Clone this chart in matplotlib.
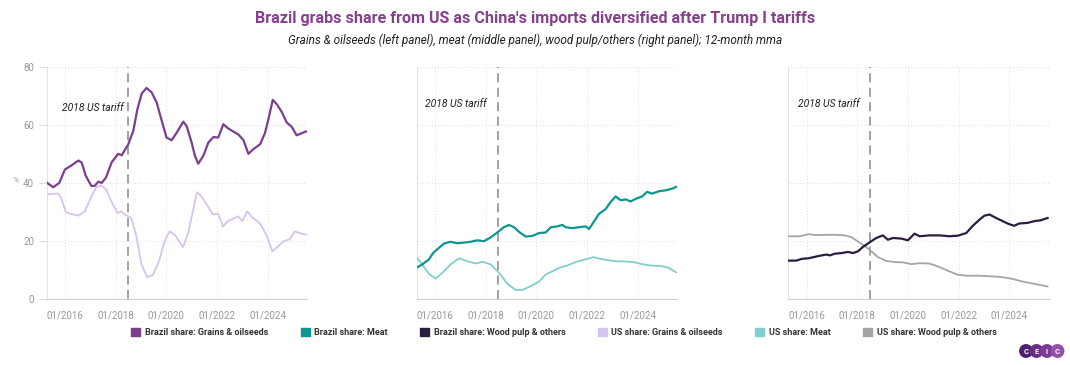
import matplotlib
matplotlib.use("Agg")
from matplotlib import pyplot as plt
import matplotlib.patches as mpatches
from matplotlib.patches import Ellipse

plt.rcParams['font.family'] = ['Roboto', 'DejaVu Sans']

# DATA (decimal years, % share of China's imports)
t_br_grains = [2015.30, 2015.54, 2015.78, 2016.00, 2016.26, 2016.53, 2016.66, 2016.83, 2017.05, 2017.18,
               2017.32, 2017.45, 2017.62, 2017.84, 2018.10, 2018.24, 2018.50, 2018.70, 2018.86, 2019.03,
               2019.22, 2019.42, 2019.62, 2019.82, 2020.01, 2020.21, 2020.41, 2020.67, 2020.80, 2021.00,
               2021.13, 2021.26, 2021.46, 2021.66, 2021.86, 2022.05, 2022.25, 2022.45, 2022.64, 2022.84,
               2023.04, 2023.24, 2023.43, 2023.70, 2023.89, 2024.03, 2024.20, 2024.36, 2024.55, 2024.75,
               2024.95, 2025.14, 2025.34, 2025.51]
br_grains = [40.0, 38.5, 40.0, 44.6, 46.0, 47.7, 47.0, 42.3, 38.9, 39.0,
             40.4, 40.0, 41.8, 47.0, 50.0, 49.5, 53.3, 58.0, 65.4, 70.8,
             72.7, 71.2, 67.7, 61.4, 55.6, 54.7, 57.3, 61.1, 59.6, 53.9,
             49.3, 46.6, 49.3, 53.9, 55.8, 55.6, 60.2, 58.7, 57.7, 56.7,
             54.8, 50.0, 51.6, 53.3, 57.1, 62.0, 68.6, 67.1, 64.5, 60.8,
             59.3, 56.4, 57.1, 57.7]

t_us_grains = [2015.30, 2015.74, 2015.87, 2016.04, 2016.33, 2016.53, 2016.79, 2017.05, 2017.24, 2017.43,
               2017.63, 2017.89, 2018.09, 2018.22, 2018.36, 2018.62, 2018.82, 2019.01, 2019.24, 2019.47,
               2019.71, 2019.93, 2020.13, 2020.33, 2020.66, 2020.86, 2021.05, 2021.21, 2021.38, 2021.64,
               2021.84, 2022.04, 2022.24, 2022.43, 2022.63, 2022.83, 2023.00, 2023.19, 2023.42, 2023.68,
               2023.95, 2024.18, 2024.41, 2024.61, 2024.87, 2025.07, 2025.26, 2025.51]
us_grains = [36.0, 36.3, 34.3, 29.9, 29.1, 28.7, 30.2, 35.4, 38.5, 39.1,
             37.7, 32.5, 29.6, 30.2, 29.1, 27.9, 21.6, 12.3, 7.5, 8.3,
             12.9, 19.8, 23.3, 22.1, 17.9, 22.7, 30.2, 36.8, 35.4, 31.9,
             29.1, 29.4, 25.0, 26.8, 27.6, 28.5, 26.8, 30.2, 27.9, 26.2,
             22.1, 16.4, 18.1, 19.8, 20.6, 23.3, 22.7, 22.1]

t_br_meat = [2015.26, 2015.50, 2015.76, 2015.92, 2016.09, 2016.36, 2016.62, 2016.88, 2017.14, 2017.41,
             2017.67, 2017.93, 2018.20, 2018.46, 2018.72, 2018.92, 2019.12, 2019.32, 2019.58, 2019.84,
             2020.11, 2020.37, 2020.57, 2020.83, 2021.03, 2021.16, 2021.42, 2021.68, 2021.95, 2022.08,
             2022.21, 2022.47, 2022.74, 2022.93, 2023.13, 2023.33, 2023.53, 2023.72, 2023.92, 2024.17,
             2024.37, 2024.57, 2024.83, 2025.09, 2025.36, 2025.51]
br_meat = [10.7, 11.9, 13.6, 15.7, 17.1, 19.1, 19.7, 19.2, 19.4, 19.7,
           20.2, 19.9, 21.2, 22.9, 24.7, 25.5, 24.7, 23.1, 21.5, 21.7,
           22.7, 22.9, 24.7, 25.0, 25.5, 24.7, 24.4, 24.7, 25.0, 24.1,
           25.8, 29.3, 31.0, 33.4, 35.3, 34.0, 34.3, 33.6, 34.5, 35.3,
           36.9, 36.3, 37.1, 37.4, 38.0, 38.6]

t_us_meat = [2015.26, 2015.50, 2015.76, 2016.03, 2016.29, 2016.62, 2016.95, 2017.28, 2017.61, 2017.87,
             2018.20, 2018.53, 2018.86, 2019.18, 2019.45, 2019.71, 2020.11, 2020.37, 2020.63, 2020.89,
             2021.22, 2021.55, 2022.00, 2022.26, 2022.53, 2022.86, 2023.12, 2023.51, 2023.84, 2024.17,
             2024.50, 2024.96, 2025.22, 2025.51]
us_meat = [14.5, 11.9, 8.7, 7.0, 9.0, 11.9, 14.0, 13.0, 12.2, 12.8,
           11.9, 9.0, 5.2, 3.1, 3.1, 4.1, 6.0, 8.4, 9.5, 10.7,
           11.5, 12.7, 13.8, 14.4, 13.8, 13.3, 13.0, 12.9, 12.7, 12.0,
           11.5, 11.3, 10.7, 9.2]

t_br_wood = [2015.30, 2015.60, 2015.80, 2016.07, 2016.33, 2016.59, 2016.79, 2016.92, 2017.12, 2017.38,
             2017.64, 2017.83, 2018.03, 2018.22, 2018.49, 2018.75, 2019.01, 2019.21, 2019.41, 2019.74,
             2020.00, 2020.26, 2020.46, 2020.85, 2021.24, 2021.64, 2021.97, 2022.30, 2022.56, 2022.82,
             2023.02, 2023.22, 2023.48, 2023.74, 2023.93, 2024.19, 2024.39, 2024.72, 2024.98, 2025.24,
             2025.51]
br_wood = [13.2, 13.2, 13.8, 14.0, 14.5, 15.0, 15.3, 15.0, 15.6, 15.8,
           16.2, 15.8, 16.4, 17.9, 19.5, 21.0, 21.9, 20.4, 21.0, 20.8,
           20.2, 22.5, 21.6, 21.9, 21.9, 21.6, 21.8, 22.7, 25.2, 27.3,
           28.7, 29.1, 27.9, 26.8, 26.0, 25.2, 26.0, 26.2, 26.8, 27.1,
           27.9]

t_us_wood = [2015.30, 2015.74, 2016.07, 2016.39, 2016.79, 2017.18, 2017.51, 2017.77, 2018.03, 2018.29,
             2018.56, 2018.82, 2019.15, 2019.48, 2019.81, 2020.13, 2020.46, 2020.85, 2021.18, 2021.58,
             2021.97, 2022.36, 2022.82, 2023.48, 2023.80, 2024.13, 2024.52, 2024.98, 2025.51]
us_wood = [21.6, 21.6, 22.3, 22.0, 22.1, 22.1, 21.9, 21.3, 19.8, 18.3,
           16.4, 14.4, 13.1, 12.7, 12.6, 12.0, 12.3, 12.2, 11.2, 9.7,
           8.3, 8.0, 8.0, 7.7, 7.4, 6.9, 6.0, 5.2, 4.3]

tick_years = [2016, 2018, 2020, 2022, 2024]
tick_labels = ["01/2016", "01/2018", "01/2020", "01/2022", "01/2024"]
tariff_date = 2018.5

# COLORS
c_br_grains = "#7a3f8e"
c_br_meat = "#0e9690"
c_br_wood = "#2b1d3f"
c_us_grains = "#d5c4ee"
c_us_meat = "#7fcfcc"
c_us_wood = "#a5a5a5"

fig = plt.figure(figsize=(10.7, 3.65), dpi=100)

panels = [
    (0.0436, (t_br_grains, br_grains, c_br_grains), (t_us_grains, us_grains, c_us_grains), 64.6, 2015.88),
    (0.3894, (t_br_meat, br_meat, c_br_meat), (t_us_meat, us_meat, c_us_meat), 66.0, 2015.60),
    (0.7367, (t_br_wood, br_wood, c_br_wood), (t_us_wood, us_wood, c_us_wood), 66.3, 2015.65),
]

for i, (left, br, us, ty, tx) in enumerate(panels):
    ax = fig.add_axes([left, 0.181, 0.2433, 0.636])
    ax.plot(us[0], us[1], color=us[2], lw=1.3, zorder=3)
    ax.plot(br[0], br[1], color=br[2], lw=1.6, zorder=4)
    ax.axvline(tariff_date, color="#9a9a9a", lw=1.3, ls=(0, (5, 3)), zorder=2)
    ax.text(tx, ty, "2018 US tariff", fontsize=7.5, style="italic", color="#222222")

    ax.set_xlim(2015.28, 2025.55)
    ax.set_ylim(0, 80)
    ax.set_xticks(tick_years)
    ax.set_xticklabels(tick_labels)
    ax.set_yticks([0, 20, 40, 60, 80])
    ax.grid(True, color="#dddddd", lw=0.7, ls=(0, (1, 2)))
    for s in ["top", "right"]:
        ax.spines[s].set_visible(False)
    ax.spines["left"].set_color("#e3e3e3")
    ax.spines["bottom"].set_color("#cfcfcf")
    ax.tick_params(axis="x", length=0, labelsize=7, labelcolor="#999999", pad=8)
    ax.tick_params(axis="y", length=6, color="#dddddd", labelsize=7, labelcolor="#999999", pad=3)
    if i == 0:
        ax.set_ylabel("%", rotation=0, fontsize=6, color="#999999", labelpad=6)
        ax.yaxis.set_label_coords(-0.12, 0.5)
    else:
        ax.tick_params(axis="y", labelleft=False, length=0)
    ax.axvline(2025.55, color="#e8e8e8", lw=0.7, ls=(0, (1, 2)))

fig.text(0.5, 0.95, "Brazil grabs share from US as China's imports diversified after Trump I tariffs",
         ha="center", va="center", fontsize=11.6, fontweight="bold", color="#87408f")
fig.text(0.5, 0.89, "Grains & oilseeds (left panel), meat (middle panel), wood pulp/others (right panel); 12-month mma",
         ha="center", va="center", fontsize=8.5, style="italic", color="#222222")

handles = [
    mpatches.Patch(color=c_br_grains, label="Brazil share: Grains & oilseeds"),
    mpatches.Patch(color=c_br_meat, label="Brazil share: Meat"),
    mpatches.Patch(color=c_br_wood, label="Brazil share: Wood pulp & others"),
    mpatches.Patch(color=c_us_grains, label="US share: Grains & oilseeds"),
    mpatches.Patch(color=c_us_meat, label="US share: Meat"),
    mpatches.Patch(color=c_us_wood, label="US share: Wood pulp & others"),
]
fig.legend(handles=handles, loc="center", bbox_to_anchor=(0.527, 0.09), ncol=6, frameon=False,
           prop={"size": 6.5, "weight": "bold"}, handlelength=1.0, handleheight=1.0,
           handletextpad=0.5, columnspacing=3.6, labelcolor="#333333")

# CEIC logo
logo_colors = ["#4b2270", "#6a2d8a", "#7d3a96", "#9450a8"]
for k, letter in enumerate("CEIC"):
    cx = 1026 + k * 10.5
    fig.patches.append(Ellipse((cx / 1070, 1 - 351 / 365), 12.5 / 1070, 12.5 / 365,
                               transform=fig.transFigure, color=logo_colors[k], zorder=5))
    fig.text(cx / 1070, 1 - 351 / 365, letter, ha="center", va="center", fontsize=5.5,
             fontweight="bold", color="white", zorder=6)

plt.savefig("out.png", dpi=100)
